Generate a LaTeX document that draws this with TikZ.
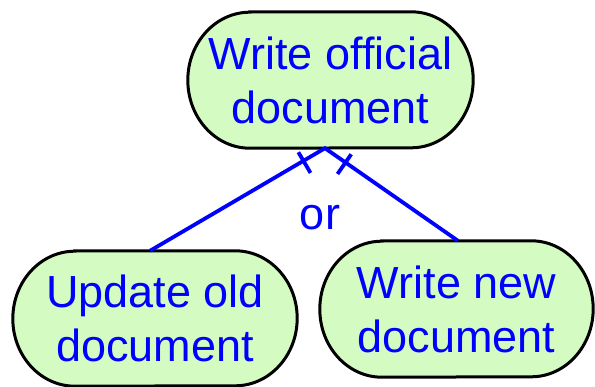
\documentclass[tikz,border=0pt]{standalone}
\usepackage{fontspec}
\setmainfont{Liberation Sans}
\usetikzlibrary{calc,backgrounds}
\definecolor{goalfill}{RGB}{212,252,194}
\definecolor{goaltext}{RGB}{0,0,255}
\definecolor{linkblue}{RGB}{0,0,255}
\tikzset{
  goal/.style={text=goaltext, align=center, inner sep=0pt,
    font=\fontsize{45}{54}\selectfont},
  outline/.style={draw=black, line width=3pt, fill=goalfill},
  link/.style={draw=linkblue, line width=3.8pt},
  tick/.style={draw=linkblue, line width=3.8pt},
  orlabel/.style={text=goaltext, font=\fontsize{45}{54}\selectfont, inner sep=0pt, anchor=base}
}
% outline of a goal: straight top and bottom, half-elliptic ends
\newcommand\goaloutline[3]{% node name, end x radius, end y radius
  \draw[outline] ($(#1.north west)+(#2,0)$) -- ($(#1.north east)+(-#2,0)$)
    arc[start angle=90, end angle=-90, x radius=#2pt, y radius=#3pt]
    -- ($(#1.south west)+(#2,0)$)
    arc[start angle=270, end angle=90, x radius=#2pt, y radius=#3pt] -- cycle;}
\begin{document}
\begin{tikzpicture}[x=1pt, y=-1pt]
  \useasboundingbox (0,0) rectangle (595,387);

  % goal nodes
  \node[goal, minimum width=285pt, minimum height=136pt] (top) at (330.5,80) {Write official\\document};
  \node[goal, minimum width=284pt, minimum height=135pt] (upd) at (155,318.5) {Update old\\document};
  \node[goal, minimum width=273pt, minimum height=136pt] (new) at (456.5,309) {Write new\\document};

  \begin{scope}[on background layer]
    \goaloutline{top}{62}{68}
    \goaloutline{upd}{62}{67.5}
    \goaloutline{new}{62}{68}
  \end{scope}

  % decomposition links
  \coordinate (apex) at ($(top.south)+(-5.5,0)$);
  \coordinate (updtop) at ($(upd.north)+(-5,0)$);
  \coordinate (newtop) at ($(new.north)+(1.5,0)$);
  \draw[link] (updtop) -- (apex) -- (newtop);

  % cross ticks near the apex
  \coordinate (t1) at ($(apex)!25pt!(updtop)$);
  \coordinate (t2) at ($(apex)!25pt!(newtop)$);
  \draw[tick] ($(t1)!10pt!90:(apex)$) -- ($(t1)!14pt!-90:(apex)$);
  \draw[tick] ($(t2)!10pt!-90:(apex)$) -- ($(t2)!14pt!90:(apex)$);

  \node[orlabel] (or) at (320,230) {or};
\end{tikzpicture}
\end{document}
